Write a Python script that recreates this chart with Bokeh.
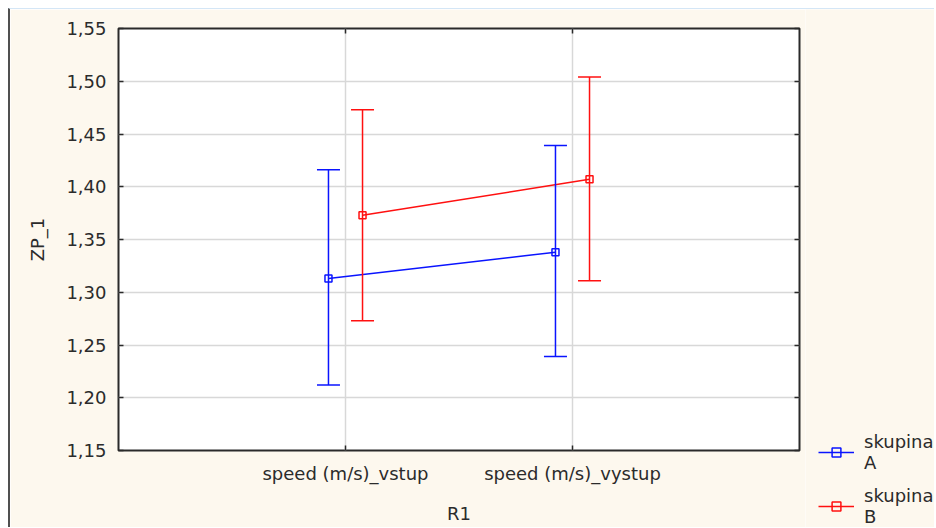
from bokeh.plotting import figure
from bokeh.layouts import row
from bokeh.models import (Range1d, FixedTicker, CustomJSTickFormatter, LinearAxis,
                          Whisker, ColumnDataSource, Legend, LegendItem)
from bokeh.embed import file_html
from bokeh.resources import INLINE

# ---- data ----
categories = ["speed (m/s)_vstup", "speed (m/s)_vystup"]
cat_pos = [1, 2]
group_labels = ["skupina\nA", "skupina\nB"]
mean_A = [1.313, 1.338]
low_A = [1.212, 1.239]
high_A = [1.416, 1.439]
mean_B = [1.373, 1.407]
low_B = [1.273, 1.311]
high_B = [1.473, 1.504]
y_ticks = [1.15, 1.20, 1.25, 1.30, 1.35, 1.40, 1.45, 1.50, 1.55]
x_label = "R1"
y_label = "ZP_1"

dodge_off = 0.075
FONT = "DejaVu Sans"
FS = "18px"
TXT = "#2b2b2b"
BG = "#fdf8ee"
COLORS = ["#0a14ff", "#ff1010"]

p = figure(width=795, height=518, x_range=Range1d(0, 3), y_range=Range1d(1.15, 1.55),
           output_backend="svg", toolbar_location=None,
           min_border_left=108, min_border_right=6, min_border_top=19, min_border_bottom=77,
           background_fill_color="white", border_fill_color=BG,
           outline_line_color="#2a2a2a", outline_line_width=2)
p.frame_align = False

# axes
p.xaxis.ticker = FixedTicker(ticks=cat_pos)
p.xaxis.major_label_overrides = {c: lab for c, lab in zip(cat_pos, categories)}
p.yaxis.ticker = FixedTicker(ticks=y_ticks)
p.yaxis.formatter = CustomJSTickFormatter(code="return tick.toFixed(2).replace('.', ',')")
p.xaxis.axis_label = x_label
p.yaxis.axis_label = y_label
for ax in (p.xaxis, p.yaxis):
    ax.axis_line_alpha = 0
    ax.major_tick_in = 5
    ax.major_tick_out = 0
    ax.major_tick_line_color = "#2a2a2a"
    ax.major_tick_line_width = 1.5
    ax.minor_tick_line_alpha = 0
    ax.major_label_text_font = FONT
    ax.major_label_text_font_size = FS
    ax.major_label_text_color = TXT
    ax.axis_label_text_font = FONT
    ax.axis_label_text_font_size = FS
    ax.axis_label_text_font_style = "normal"
    ax.axis_label_text_color = TXT
p.yaxis.major_label_standoff = 12
p.yaxis.axis_label_standoff = 15
p.xaxis.major_label_standoff = 12
p.xaxis.axis_label_standoff = 16

for loc, tick_vals in (("right", y_ticks), ("above", cat_pos)):
    ax2 = LinearAxis(ticker=FixedTicker(ticks=tick_vals))
    ax2.axis_line_alpha = 0
    ax2.major_tick_in = 5
    ax2.major_tick_out = 0
    ax2.major_tick_line_color = "#2a2a2a"
    ax2.major_tick_line_width = 1.5
    ax2.minor_tick_line_alpha = 0
    ax2.major_label_standoff = 0
    ax2.major_label_text_font_size = "0px"
    ax2.major_label_text_alpha = 0
    p.add_layout(ax2, loc)

p.xgrid.grid_line_color = "#d8d8d8"
p.ygrid.grid_line_color = "#d8d8d8"
p.xgrid.grid_line_width = 1.5
p.ygrid.grid_line_width = 1.5

for mean, lo, hi, off, col in ((mean_A, low_A, high_A, -dodge_off, COLORS[0]),
                               (mean_B, low_B, high_B, dodge_off, COLORS[1])):
    src = ColumnDataSource(dict(x=[c + off for c in cat_pos], y=mean, lower=lo, upper=hi))
    w = Whisker(base="x", lower="lower", upper="upper", source=src, dimension="height",
                line_color=col, line_width=1.5, level="glyph")
    for head in (w.upper_head, w.lower_head):
        head.size = 23
        head.line_color = col
        head.line_width = 1.5
    p.add_layout(w)
    p.line("x", "y", source=src, line_color=col, line_width=1.5)
    p.scatter("x", "y", source=src, marker="square", size=7,
              fill_alpha=0, line_color=col, line_width=1.5)

# ---- legend panel (separate small figure at the right) ----
pl = figure(width=129, height=518, x_range=Range1d(0, 1), y_range=Range1d(0, 1),
            output_backend="svg", toolbar_location=None, min_border=0,
            background_fill_color=BG, border_fill_color=BG, outline_line_alpha=0)
pl.frame_align = False
pl.axis.visible = False
pl.grid.visible = False
items = []
for lab, col in zip(group_labels, COLORS):
    empty = ColumnDataSource(dict(x=[float("nan")], y=[float("nan")]))
    r_line = pl.line("x", "y", source=empty, line_color=col, line_width=1.5)
    r_pt = pl.scatter("x", "y", source=empty, marker="square", size=7,
                      fill_alpha=0, line_color=col, line_width=1.5)
    items.append(LegendItem(label=lab, renderers=[r_line, r_pt]))
legend = Legend(items=items, location=(13, 0), padding=0, margin=0, spacing=12,
                glyph_width=36, glyph_height=22, label_standoff=10,
                label_text_font=FONT, label_text_font_size=FS, label_text_color=TXT,
                label_text_baseline="top",
                background_fill_alpha=0, border_line_alpha=0)
pl.add_layout(legend)

layout = row(p, pl, styles={"margin-left": "8px", "margin-top": "8px",
                            "border-left": "2px solid #505050",
                            "border-top": "1px solid #d4e6f6"})

open("out.html", "w").write(file_html(layout, INLINE))
